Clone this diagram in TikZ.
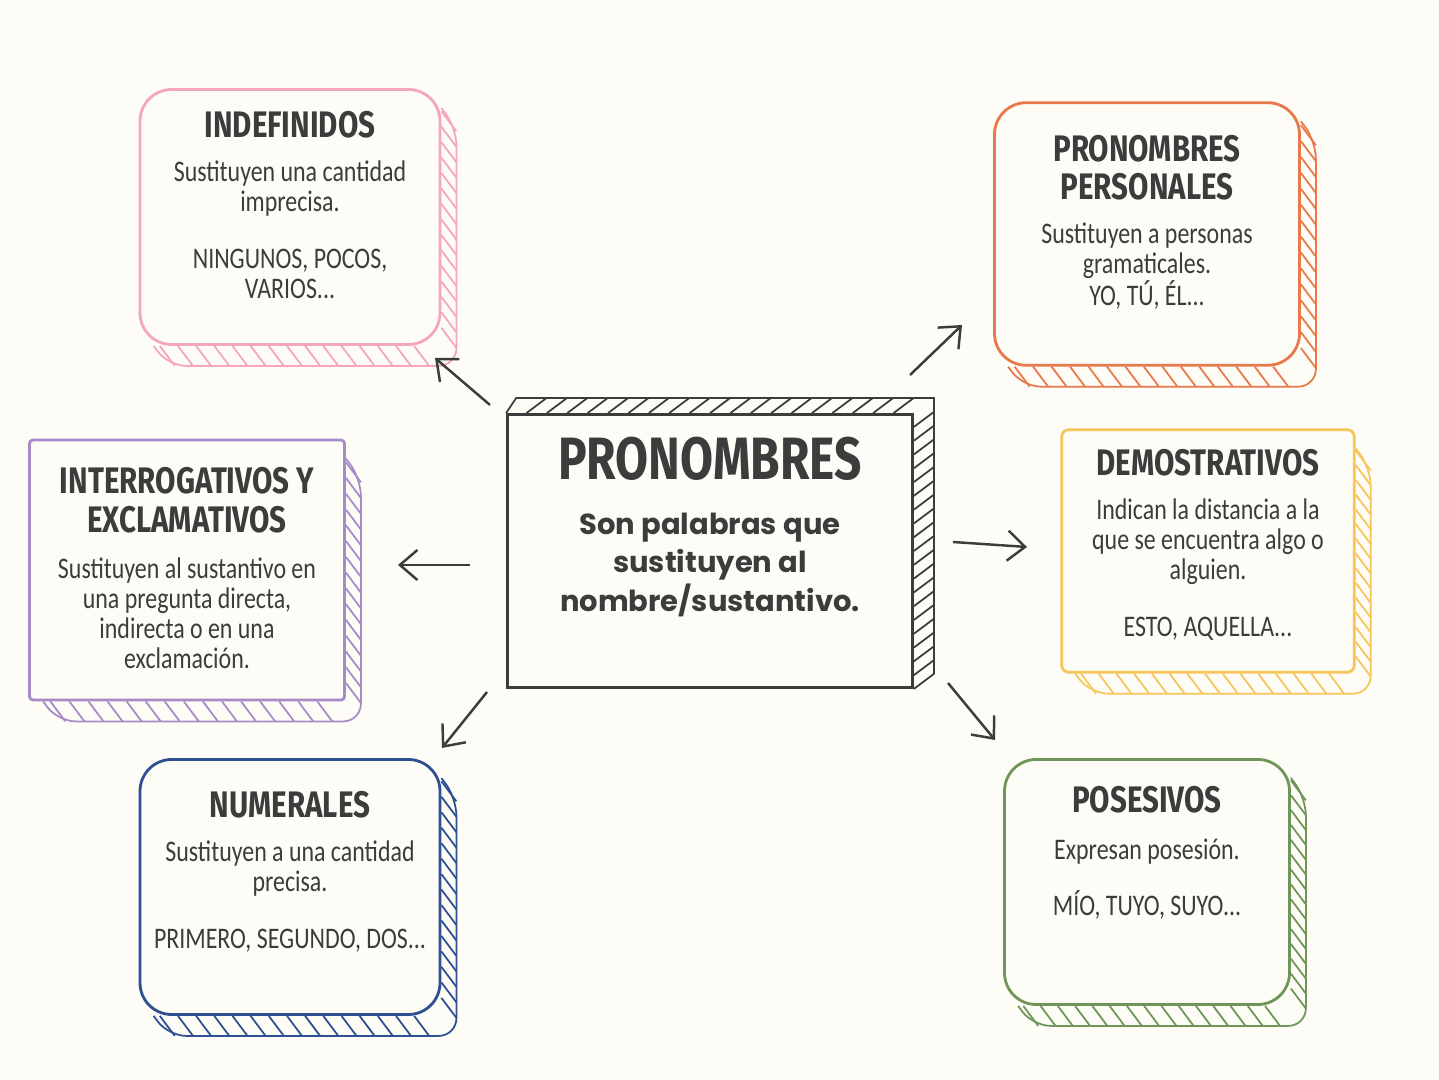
\documentclass[tikz,border=0pt]{standalone}
\usepackage{fontspec}
\usetikzlibrary{calc,positioning,arrows.meta}
\newfontfamily\titlefont[FakeStretch=0.8]{Fira Sans}
\newfontfamily\bodyfont[FakeStretch=0.8]{Carlito}
\newfontfamily\mainfont{Poppins}
\definecolor{paper}{HTML}{FDFCF6}
\definecolor{ink}{HTML}{3C3C3C}
\definecolor{pinkc}{HTML}{F4A7BB}
\definecolor{orangec}{HTML}{E8794B}
\definecolor{purplec}{HTML}{A88BC6}
\definecolor{yellowc}{HTML}{F6C65A}
\definecolor{bluec}{HTML}{2F4F93}
\definecolor{greenc}{HTML}{6F9658}
\tikzset{
    card/.style={draw=#1, line width=1.6pt, rounded corners=18pt},
    ttl/.style={text=ink, font=\titlefont\bfseries\fontsize{21}{22}\selectfont, align=center},
    txt/.style={text=ink, font=\bodyfont\fontsize{17}{17}\selectfont, align=center},
    arr/.style={ink, line width=1.4pt, -{Straight Barb[length=3.5mm,width=6mm]}}
}
% extruded, hatched edge below and right of a card
\newcommand{\depth}[3]{%
    \draw[#2, line width=1pt, rounded corners=10pt] ($(#1.south west)+(0.3,0)$) -- ++(#3)
        -- ($(#1.south east)+(#3)$) -- ($(#1.north east)+(#3)+(0,-0.4)$) -- ($(#1.north east)+(0,-0.4)$);
    \foreach \t in {0.07,0.13,...,0.95} {
        \draw[#2, line width=1pt] ($(#1.south west)!\t!(#1.south east)$) -- ++(#3);
        \draw[#2, line width=1pt] ($(#1.south east)!\t!(#1.north east)$) -- ++(#3);
    }
}
\begin{document}
\begin{tikzpicture}
    \fill[paper] (0,0) rectangle (28.78,21.6);
    \useasboundingbox (0,0) rectangle (28.78,21.6);

    % centre
    \node[draw=ink, line width=1.6pt, minimum width=8.1cm, minimum height=5.46cm] (pron) at (14.2,10.58) {};
    \draw[ink, line width=1pt] (pron.north west) -- ++(0.2,0.3) -- ($(pron.north east)+(0.4,0.3)$)
        -- ($(pron.south east)+(0.4,0.3)$) -- (pron.south east);
    \foreach \t in {0.05,0.1,...,0.97} {
        \draw[ink, line width=1pt] ($(pron.north west)!\t!(pron.north east)$) -- ++(0.4,0.3);
        \draw[ink, line width=1pt] ($(pron.north east)!\t!(pron.south east)$) -- ++(0.4,0.3);
    }
    \node[below=0.35cm of pron.north, text=ink, font=\titlefont\bfseries\fontsize{34}{36}\selectfont] (pront) {PRONOMBRES};
    \node[below=0.4cm of pront, text=ink, align=center, font=\mainfont\bfseries\fontsize{16.5}{22}\selectfont] (pronb)
        {Son palabras que\\sustituyen al\\nombre/sustantivo.};

    % cards
    \node[card=pinkc, minimum width=6cm, minimum height=5.1cm] (indef) at (5.8,17.26) {};
    \depth{indef}{pinkc}{0.3,-0.4}
    \node[ttl, below=0.35cm of indef.north] (indeft) {INDEFINIDOS};
    \node[txt, below=0.2cm of indeft] {Sustituyen una cantidad\\imprecisa.\\[0.9em]NINGUNOS, POCOS,\\VARIOS...};

    \node[card=orangec, minimum width=6.1cm, minimum height=5.25cm] (pers) at (22.94,16.92) {};
    \depth{pers}{orangec}{0.3,-0.4}
    \node[ttl, below=0.55cm of pers.north] (perst) {PRONOMBRES\\PERSONALES};
    \node[txt, below=0.2cm of perst] {Sustituyen a personas\\gramaticales.\\YO, TÚ, ÉL...};

    \node[card=purplec, rounded corners=2pt, minimum width=6.3cm, minimum height=5.2cm] (inter) at (3.74,10.2) {};
    \depth{inter}{purplec}{0.3,-0.4}
    \node[ttl, below=0.45cm of inter.north] (intert) {INTERROGATIVOS Y\\EXCLAMATIVOS};
    \node[txt, below=0.25cm of intert] {Sustituyen al sustantivo en\\una pregunta directa,\\indirecta o en una\\exclamación.};

    \node[card=yellowc, rounded corners=4pt, minimum width=5.85cm, minimum height=4.85cm] (demo) at (24.16,10.58) {};
    \depth{demo}{yellowc}{0.3,-0.4}
    \node[ttl, below=0.3cm of demo.north] (demot) {DEMOSTRATIVOS};
    \node[txt, below=0.2cm of demot] {Indican la distancia a la\\que se encuentra algo o\\alguien.\\[0.9em]ESTO, AQUELLA...};

    \node[card=bluec, minimum width=6cm, minimum height=5.1cm] (num) at (5.8,3.86) {};
    \depth{num}{bluec}{0.3,-0.4}
    \node[ttl, below=0.55cm of num.north] (numt) {NUMERALES};
    \node[txt, below=0.2cm of numt] {Sustituyen a una cantidad\\precisa.\\[0.9em]PRIMERO, SEGUNDO, DOS...};

    \node[card=greenc, minimum width=5.7cm, minimum height=4.9cm] (pos) at (22.94,3.96) {};
    \depth{pos}{greenc}{0.3,-0.4}
    \node[ttl, below=0.45cm of pos.north] (post) {POSESIVOS};
    \node[txt, below=0.25cm of post] {Expresan posesión.\\[0.9em]MÍO, TUYO, SUYO...};

    % arrows
    \coordinate (a1) at (9.8,13.5);  \coordinate (b1) at (8.7,14.44);
    \coordinate (a2) at (18.2,14.1); \coordinate (b2) at (19.24,15.1);
    \coordinate (a3) at (9.4,10.3);  \coordinate (b3) at (7.96,10.3);
    \coordinate (a4) at (19.06,10.76); \coordinate (b4) at (20.54,10.66);
    \coordinate (a5) at (9.74,7.76); \coordinate (b5) at (8.84,6.64);
    \coordinate (a6) at (18.96,7.94); \coordinate (b6) at (19.9,6.8);
    \foreach \i in {1,...,6} \draw[arr] (a\i) -- (b\i);
\end{tikzpicture}
\end{document}
